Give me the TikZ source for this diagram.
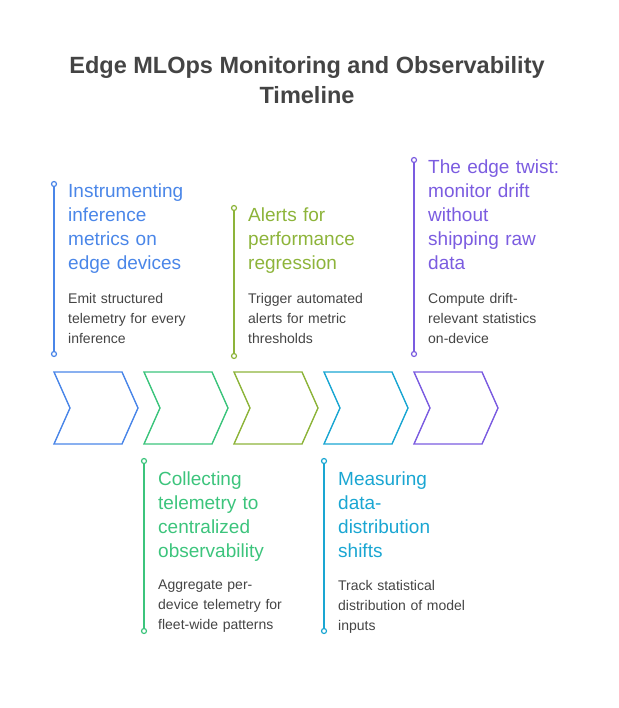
\documentclass[tikz,border=0pt]{standalone}
\usepackage{fontspec}
\setmainfont{Liberation Sans}
\definecolor{tl_blue}{RGB}{74, 134, 232}
\definecolor{tl_green}{RGB}{60, 196, 124}
\definecolor{tl_olive}{RGB}{141, 180, 58}
\definecolor{tl_cyan}{RGB}{26, 166, 210}
\definecolor{tl_purple}{RGB}{123, 92, 224}
\definecolor{tl_text}{RGB}{68, 68, 68}
\tikzstyle{dot}=[circle,draw,fill=white,line width=1.2pt,inner sep=0pt,minimum size=5pt]
\tikzstyle{head}=[anchor=north west,align=left,inner sep=0pt,text width=160pt,
  font=\fontsize{19}{24}\selectfont]
\tikzstyle{desc}=[anchor=north west,align=left,inner sep=0pt,text width=150pt,
  text=tl_text,font=\fontsize{14}{20}\selectfont]
\tikzstyle{chev}=[line width=1.4pt,line join=miter]
\begin{document}
\begin{tikzpicture}[x=1pt,y=-1pt]
    \useasboundingbox (0,0) rectangle (618,708);
    \node [text=tl_text,align=center,font=\fontsize{23.5}{30}\selectfont\bfseries] (title) at (307,80)
      {Edge MLOps Monitoring and Observability\\Timeline};
    % chevrons
    \draw [chev,draw=tl_blue] (54,372) -- (122,372) -- (138,408) -- (122,444) -- (54,444) -- (70,408) -- cycle;
    \draw [chev,draw=tl_green] (144,372) -- (212,372) -- (228,408) -- (212,444) -- (144,444) -- (160,408) -- cycle;
    \draw [chev,draw=tl_olive] (234,372) -- (302,372) -- (318,408) -- (302,444) -- (234,444) -- (250,408) -- cycle;
    \draw [chev,draw=tl_cyan] (324,372) -- (392,372) -- (408,408) -- (392,444) -- (324,444) -- (340,408) -- cycle;
    \draw [chev,draw=tl_purple] (414,372) -- (482,372) -- (498,408) -- (482,444) -- (414,444) -- (430,408) -- cycle;
    % stems
    \node [dot,draw=tl_blue] (b1) at (54,184) {};
    \node [dot,draw=tl_blue] (b2) at (54,354) {};
    \node [dot,draw=tl_green] (g1) at (144,461) {};
    \node [dot,draw=tl_green] (g2) at (144,631) {};
    \node [dot,draw=tl_olive] (o1) at (234,208) {};
    \node [dot,draw=tl_olive] (o2) at (234,356) {};
    \node [dot,draw=tl_cyan] (c1) at (324,461) {};
    \node [dot,draw=tl_cyan] (c2) at (324,631) {};
    \node [dot,draw=tl_purple] (p1) at (414,160) {};
    \node [dot,draw=tl_purple] (p2) at (414,354) {};
    \draw [line width=1.2pt,tl_blue] (b1) -- (b2);
    \draw [line width=1.2pt,tl_green] (g1) -- (g2);
    \draw [line width=1.2pt,tl_olive] (o1) -- (o2);
    \draw [line width=1.2pt,tl_cyan] (c1) -- (c2);
    \draw [line width=1.2pt,tl_purple] (p1) -- (p2);
    % texts
    \node [head,text=tl_blue] (bh) at (68,184) {Instrumenting\\inference\\metrics on\\edge devices};
    \node [desc] (bd) at (68,293) {Emit structured\\telemetry for every\\inference};
    \node [head,text=tl_green] (gh) at (158,472) {Collecting\\telemetry to\\centralized\\observability};
    \node [desc] (gd) at (158,580) {Aggregate per-\\device telemetry for\\fleet-wide patterns};
    \node [head,text=tl_olive] (oh) at (248,208) {Alerts for\\performance\\regression};
    \node [desc] (od) at (248,293) {Trigger automated\\alerts for metric\\thresholds};
    \node [head,text=tl_cyan] (ch) at (338,472) {Measuring\\data-\\distribution\\shifts};
    \node [desc] (cd) at (338,580) {Track statistical\\distribution of model\\inputs};
    \node [head,text=tl_purple] (ph) at (428,160) {The edge twist:\\monitor drift\\without\\shipping raw\\data};
    \node [desc] (pd) at (428,293) {Compute drift-\\relevant statistics\\on-device};
\end{tikzpicture}
\end{document}
